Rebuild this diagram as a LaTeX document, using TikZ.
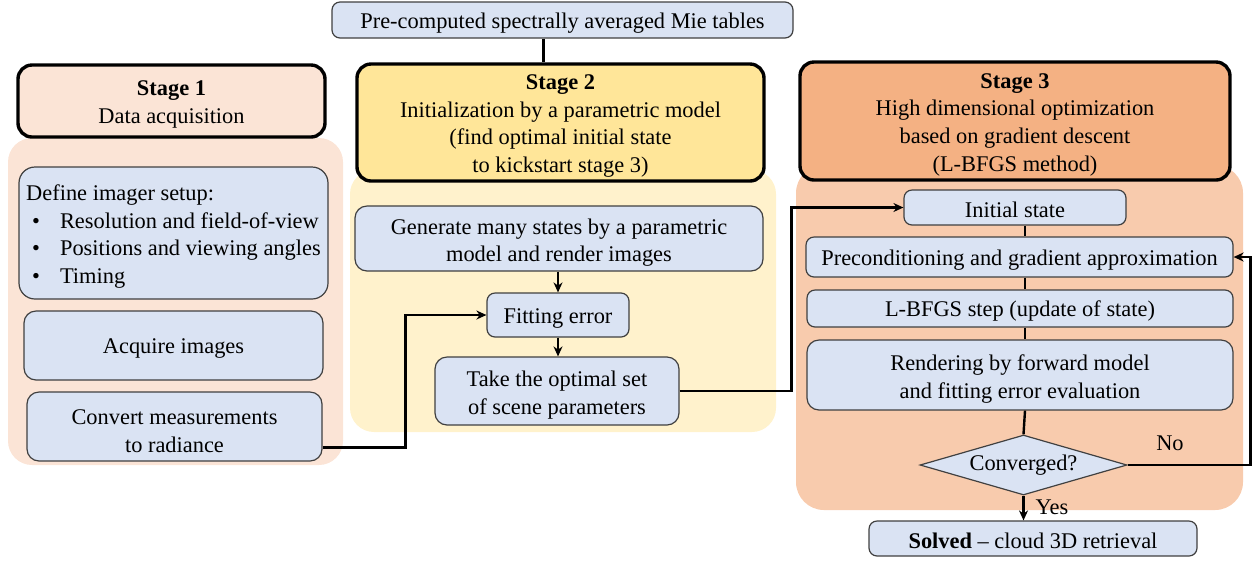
\documentclass[tikz,border=0pt]{standalone}
\usepackage{fontspec}
\setmainfont{Liberation Serif}
\usepackage{xcolor}
\usetikzlibrary{shapes.geometric}
\usetikzlibrary{arrows.meta}

\definecolor{boxblue}{HTML}{DAE3F3}
\definecolor{acqbg}{HTML}{FBE4D6}
\definecolor{initbg}{HTML}{FFF2CC}
\definecolor{inithd}{HTML}{FFE699}
\definecolor{optbg}{HTML}{F8CBAD}
\definecolor{opthd}{HTML}{F4B183}
\newcommand{\hdstrut}{\rule{0pt}{11pt}}
\newcommand{\twostrut}{\rule{0pt}{12pt}}

\begin{document}
\begin{tikzpicture}[x=0.5pt,y=-0.5pt,
	font=\fontsize{11.2}{13.8}\selectfont,
	blk/.style={draw=black!75, fill=boxblue, line width=0.6pt, rounded corners=4pt, align=center, inner sep=0pt,
		execute at begin node={\rule{0pt}{10.5pt}}},
	hdr/.style={draw=black, line width=1.7pt, rounded corners=7pt, align=center, inner sep=0pt},
	link/.style={line width=1.2pt},
	arr/.style={link, -{Stealth[length=5pt,width=4.5pt]}}]
	\useasboundingbox (0,0) rectangle (1253,564);

	% stage backgrounds
	\fill[acqbg, rounded corners=12pt] (8,138) rectangle (343,465);
	\fill[initbg, rounded corners=12pt] (350,170) rectangle (776,432);
	\fill[optbg, rounded corners=14pt] (796,165) rectangle (1243,510);

	% headers
	\node[blk, minimum width=230.5pt, minimum height=18pt] (mie) at (562.5,20) {Pre-computed spectrally averaged Mie tables};
	\node[hdr, fill=acqbg, minimum width=153.5pt, minimum height=36pt] (st1) at (171.5,101) {\hdstrut\textbf{Stage 1}\\Data acquisition};
	\node[hdr, fill=inithd, minimum width=203.5pt, minimum height=58.5pt] (st2) at (560.5,122.5) {\hdstrut\textbf{Stage 2}\\Initialization by a parametric model\\(find optimal initial state\\to kickstart stage 3)};
	\node[hdr, fill=opthd, minimum width=215pt, minimum height=59pt] (st3) at (1015,121) {\hdstrut\textbf{Stage 3}\\High dimensional optimization\\based on gradient descent\\(L-BFGS method)};

	% stage 1
	\node[blk, rounded corners=8pt, minimum width=154.5pt, minimum height=66pt] (setup) at (173.5,233) {%
		\begin{tabular}{@{\hspace{0pt}}l@{\hspace{10pt}}l@{}}
		\multicolumn{2}{@{}l@{}}{\rule{0pt}{13pt}Define imager setup:}\\
		\hspace{3pt}\textbullet & Resolution and field-of-view\\
		\hspace{3pt}\textbullet & Positions and viewing angles\\
		\hspace{3pt}\textbullet & Timing
		\end{tabular}};
	\node[blk, rounded corners=6pt, minimum width=149.5pt, minimum height=34.5pt] (acq) at (173.5,345.5) {Acquire images};
	\node[blk, rounded corners=6pt, minimum width=147.5pt, minimum height=34.5pt] (conv) at (174.5,426.5) {\twostrut Convert measurements\\to radiance};

	% stage 2
	\node[blk, rounded corners=6pt, minimum width=204pt, minimum height=32.5pt] (gen) at (559,238.5) {\twostrut Generate many states by a parametric\\model and render images};
	\node[blk, minimum width=71pt, minimum height=22pt] (fit) at (558,315) {Fitting error};
	\node[blk, rounded corners=6pt, minimum width=122pt, minimum height=34pt] (take) at (557,391) {\twostrut Take the optimal set\\of scene parameters};

	% stage 3
	\node[blk, minimum width=111pt, minimum height=17.5pt] (init) at (1015,207.5) {Initial state};
	\node[blk, minimum width=213.5pt, minimum height=20pt] (prec) at (1019.5,257) {Preconditioning and gradient approximation};
	\node[blk, minimum width=213pt, minimum height=18.5pt] (step) at (1020,308.5) {L-BFGS step (update of state)};
	\node[blk, rounded corners=6pt, minimum width=213pt, minimum height=35pt] (rend) at (1020,375) {\twostrut Rendering by forward model\\and fitting error evaluation};
	\node[diamond, draw=black!75, fill=boxblue, line width=0.6pt, inner sep=0pt, aspect=3.4, minimum width=103.5pt, minimum height=30pt] (conv3) at (1023.5,465) {Converged?};
	\node[blk, minimum width=164pt, minimum height=17.5pt] (done) at (1033,538.5) {\textbf{Solved} -- cloud 3D retrieval};
	\coordinate (spine) at (1025,0);

	% connectors
	\draw[link] ([xshift=-9.5pt]mie.south) -- ([xshift=-9.5pt]mie.south |- st2.north);
	\draw[arr] (fit.north |- gen.south) -- (fit.north);
	\draw[arr] (fit.south) -- (fit.south |- take.north);
	\draw[arr] ([yshift=-10.5pt]conv.east) -- ++(83,0) |- (fit.west);
	\draw[arr] (take.east) -- ++(112,0) |- (init.west);
	\draw[link] (init.south -| spine) -- (prec.north -| spine);
	\draw[link] (prec.south -| spine) -- (step.north -| spine);
	\draw[link] (step.south -| spine) -- (rend.north -| spine);
	\draw[link] (rend.south -| spine) -- (conv3.north);
	\draw[arr] (conv3.south) -- (conv3.south |- done.north);
	\draw[arr] (conv3.east) -- ++(123,0) |- (prec.east);
	\node (no) at (1170,443) {No};
	\node (yes) at (1052,507) {Yes};

\end{tikzpicture}
\end{document}
